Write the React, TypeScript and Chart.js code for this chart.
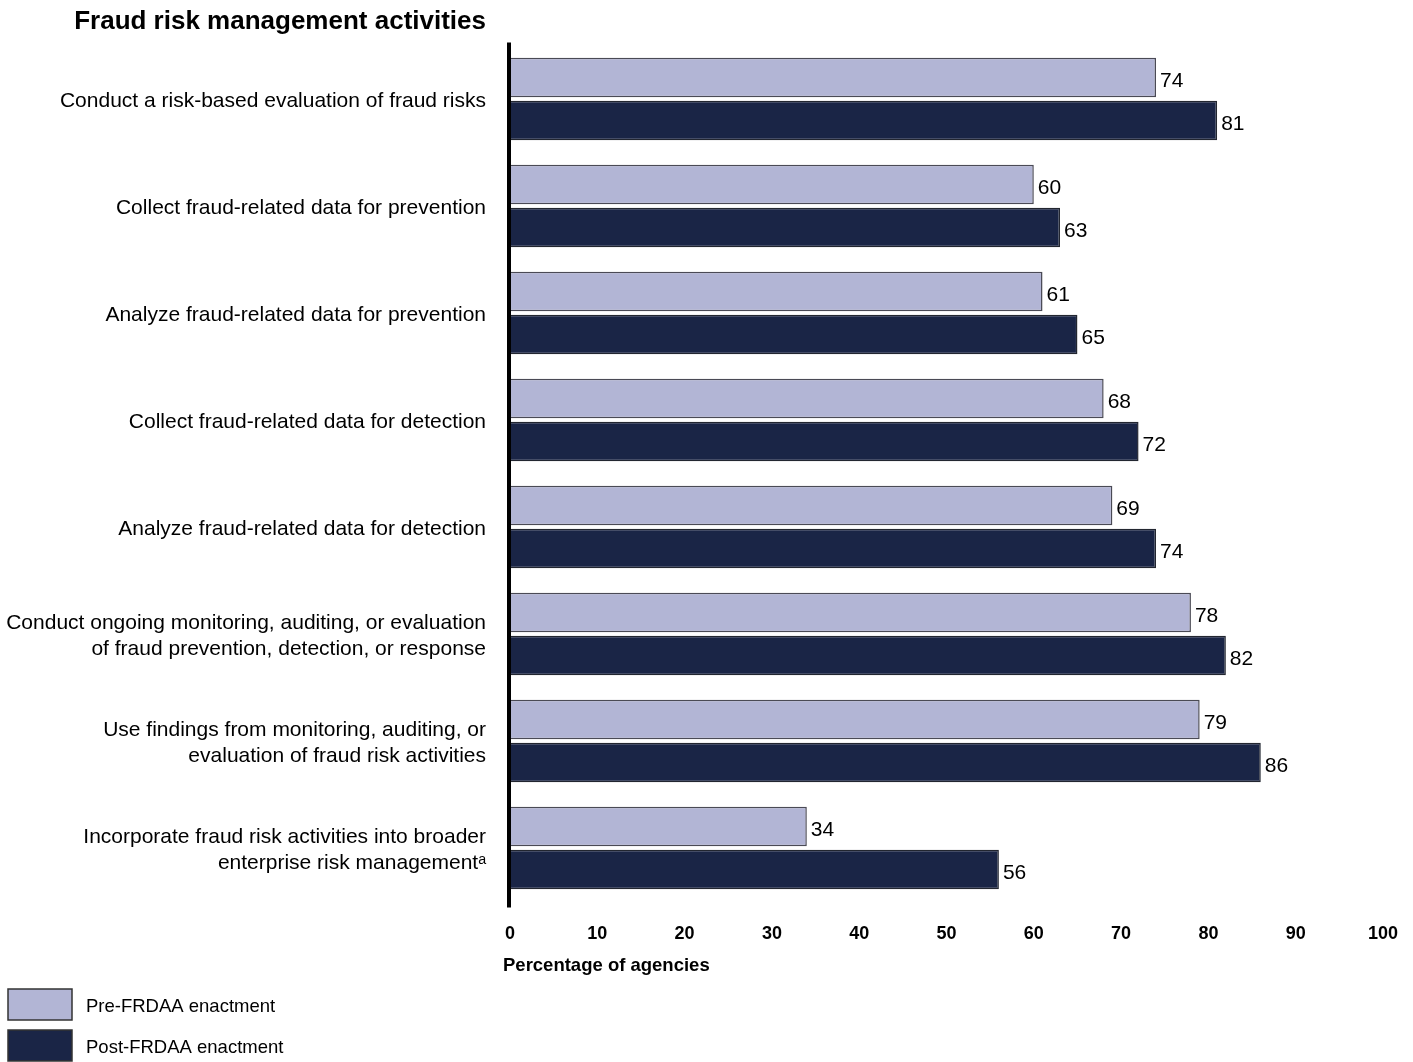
import React, { useEffect, useRef } from "react";
import { Chart, registerables } from "chart.js";

Chart.register(...registerables);

const chartTitle = "Fraud risk management activities";
const axisTitle = "Percentage of agencies";
const categories: string[][] = [
  ["Conduct a risk-based evaluation of fraud risks"],
  ["Collect fraud-related data for prevention"],
  ["Analyze fraud-related data for prevention"],
  ["Collect fraud-related data for detection"],
  ["Analyze fraud-related data for detection"],
  ["Conduct ongoing monitoring, auditing, or evaluation", "of fraud prevention, detection, or response"],
  ["Use findings from monitoring, auditing, or", "evaluation of fraud risk activities"],
  ["Incorporate fraud risk activities into broader", "enterprise risk management\u1d43"],
];
const seriesNames = ["Pre-FRDAA enactment", "Post-FRDAA enactment"];
const preValues = [74, 60, 61, 68, 69, 78, 79, 34];
const postValues = [81, 63, 65, 72, 74, 82, 86, 56];

const FONT = "Arial, 'Liberation Sans', sans-serif";
const LIGHT = "#b2b5d5";
const DARK = "#1a2546";

const overlayPlugin = {
  id: "overlay",
  afterDatasetsDraw(chart: any) {
    const ctx = chart.ctx as CanvasRenderingContext2D;
    const area = chart.chartArea;
    ctx.save();
    // value labels
    ctx.fillStyle = "#000";
    ctx.font = `21px ${FONT}`;
    ctx.textAlign = "left";
    ctx.textBaseline = "middle";
    chart.data.datasets.forEach((ds: any, di: number) => {
      const meta = chart.getDatasetMeta(di);
      meta.data.forEach((el: any, i: number) => {
        ctx.fillText(String(ds.data[i]), el.x + 4, el.y + 3.5);
      });
    });
    // axis line
    ctx.fillStyle = "#000";
    ctx.fillRect(area.left - 3, area.top - 3, 4, area.bottom - area.top + 9);
    // title
    ctx.font = `bold 26px ${FONT}`;
    ctx.textAlign = "right";
    ctx.textBaseline = "middle";
    ctx.fillText(chartTitle, 486, 21.5);
    // axis title
    ctx.font = `bold 18.5px ${FONT}`;
    ctx.textAlign = "left";
    ctx.fillText(axisTitle, 503, 965.5);
    // legend
    ctx.font = `18.5px ${FONT}`;
    chart.data.datasets.forEach((ds: any, di: number) => {
      const y = 989 + di * 41;
      ctx.fillStyle = ds.backgroundColor;
      ctx.fillRect(8, y, 64, 31);
      ctx.strokeStyle = "#333";
      ctx.lineWidth = 1.5;
      ctx.strokeRect(8, y, 64, 31);
      ctx.fillStyle = "#000";
      ctx.fillText(seriesNames[di], 86, y + 17.5);
    });
    ctx.restore();
  },
};

export default function App() {
  const ref = useRef<HTMLCanvasElement>(null);
  useEffect(() => {
    document.body.style.margin = "0";
    const chart = new Chart(ref.current!, {
      type: "bar",
      data: {
        labels: categories,
        datasets: [
          {
            label: seriesNames[0],
            data: preValues,
            backgroundColor: LIGHT,
            borderColor: "#4a4a55",
            borderWidth: 1.5,
            categoryPercentage: 0.805,
            barPercentage: 0.92,
          },
          {
            label: seriesNames[1],
            data: postValues,
            backgroundColor: DARK,
            borderColor: "#222630",
            borderWidth: 1.5,
            categoryPercentage: 0.805,
            barPercentage: 0.92,
          },
        ],
      },
      options: {
        indexAxis: "y",
        animation: false,
        responsive: false,
        devicePixelRatio: 1,
        layout: { padding: { left: 0, right: 30, top: 45.5, bottom: 0 } },
        plugins: { legend: { display: false }, tooltip: { enabled: false }, title: { display: false } },
        scales: {
          x: {
            min: 0,
            max: 100,
            grid: { display: false, drawTicks: true, tickLength: 22 },
            border: { display: false },
            ticks: {
              stepSize: 10,
              color: "#000",
              font: { family: FONT, size: 18, weight: "bold" },
              padding: 0,
              maxRotation: 0,
            },
            afterFit: (s: any) => {
              s.height = 160.5;
            },
          },
          y: {
            grid: { display: false, drawTicks: true, tickLength: 24 },
            border: { display: false },
            ticks: {
              color: "#000",
              font: { family: FONT, size: 21, lineHeight: 1.24 },
              padding: 0,
              labelOffset: 2,
              autoSkip: false,
            },
            afterFit: (s: any) => {
              s.width = 510;
            },
          },
        },
      },
      plugins: [overlayPlugin],
    });
    return () => chart.destroy();
  }, []);
  return (
    <div style={{ width: 1413, height: 1062 }}>
      <canvas ref={ref} width={1413} height={1062} style={{ display: "block" }} />
    </div>
  );
}
